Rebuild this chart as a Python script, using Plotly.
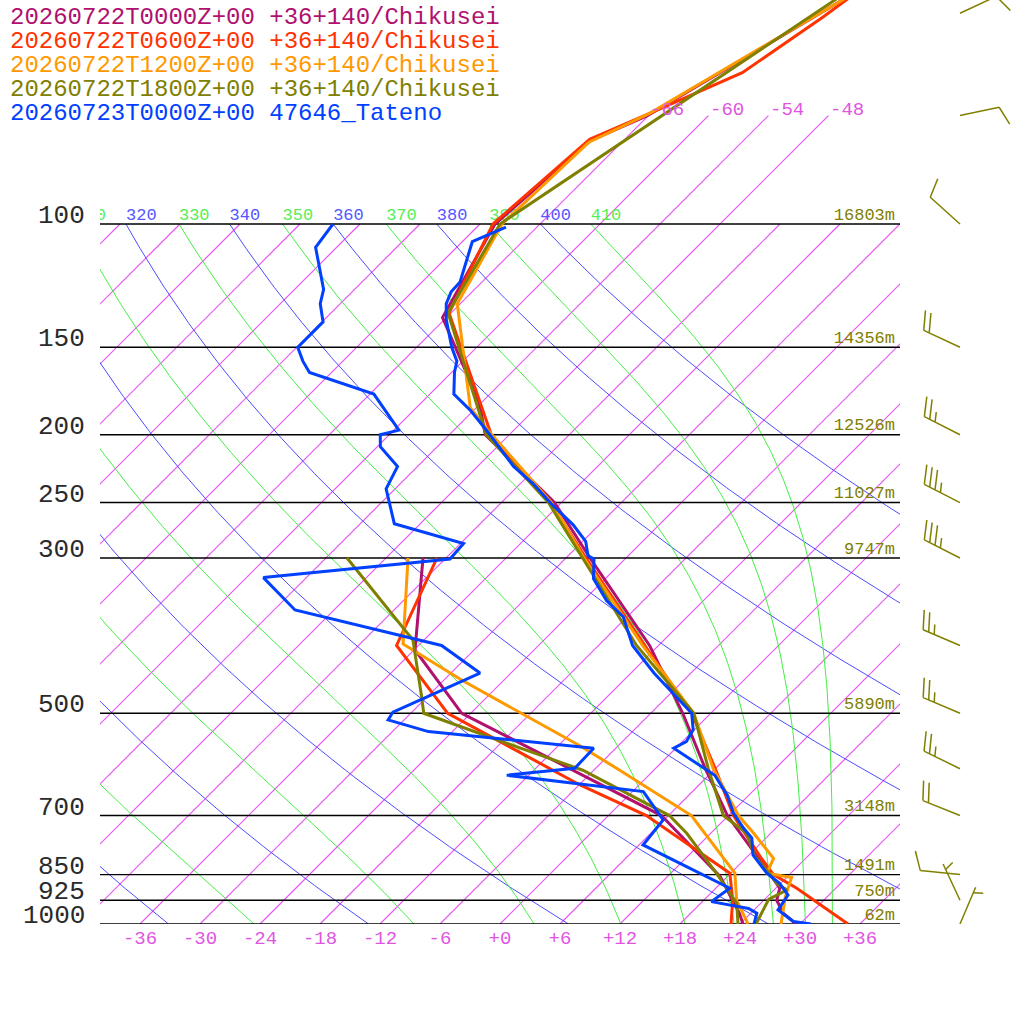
import numpy as np
import plotly.graph_objects as go

# ---- soundings: pressure (hPa) / temperature (degC) ----
# 20260722T0000Z forecast, Chikusei
C00_T_P = [1000, 966, 925, 889, 850, 800, 700, 600, 500, 400, 300, 250, 220, 210, 200, 180, 136, 100, 76, 70, 47.5]
C00_T = [29.6, 27.3, 25.3, 24.4, 22.1, 18.9, 11.9, 5.0, -2.8, -12.9, -27.6, -36.7, -44.5, -47.4, -50.4, -54.2, -66.4, -70.5, -69.3, -66.1, -58.0]
C00_D_P = [1000, 966, 856, 700, 500, 406, 300]
C00_D = [24.3, 22.9, 17.3, 5.3, -24.9, -35.9, -44.3]

# 20260722T0600Z
C06_T_P = [1000, 939, 889, 850, 800, 700, 600, 500, 400, 300, 250, 200, 134, 100, 75.7, 69.5, 60.8, 50.6, 47.5]
C06_T = [34.8, 30.1, 26.1, 22.4, 19.2, 12.5, 6.0, -1.9, -13.4, -28.0, -37.1, -49.8, -66.2, -70.7, -69.5, -66.1, -60.9, -58.4, -57.7]
C06_D_P = [1000, 925, 846, 700, 633, 500, 400, 300]
C06_D = [23.1, 20.9, 17.9, 3.8, -5.9, -26.3, -38.2, -42.9]

# 20260722T1200Z
C12_T_P = [1000, 914, 858, 846, 806, 742, 700, 651, 600, 500, 400, 300, 250, 197, 183, 130, 100, 76.4, 69.5, 47.5]
C12_T = [28.1, 25.8, 24.5, 21.6, 20.8, 16.3, 13.0, 9.6, 5.8, -1.7, -13.6, -28.2, -37.0, -50.6, -54.6, -66.3, -69.8, -69.3, -66.1, -58.0]
C12_D_P = [1000, 925, 846, 700, 603, 556, 449, 398, 300]
C12_D = [24.8, 21.3, 18.4, 8.3, -3.4, -9.9, -28.1, -37.7, -45.8]

# 20260722T1800Z
C18_T_P = [1000, 922, 894, 875, 850, 800, 742, 700, 600, 500, 400, 300, 250, 200, 134, 100, 47.5]
C18_T = [25.6, 24.4, 25.3, 23.6, 22.1, 18.7, 15.6, 11.5, 5.3, -1.7, -14.2, -28.3, -37.3, -50.3, -66.3, -70.0, -58.8]
C18_D_P = [1000, 934, 850, 742, 700, 603, 558, 500, 473, 393, 300]
C18_D = [23.8, 21.6, 16.8, 9.6, 6.1, -7.1, -16.1, -28.7, -30.6, -37.1, -51.9]

# 20260723T0000Z observed, 47646 Tateno
TAT_T_P = [1000, 992, 955, 909, 875, 846, 797, 754, 730, 695, 654, 613, 561, 549, 528, 500,
           438, 400, 364, 345, 321, 301, 298, 284, 269, 251, 235, 222, 209, 199, 185, 175,
           163, 157, 150, 137, 130, 125, 121, 110, 106, 101]
TAT_T = [31.1, 29.1, 26.4, 25.9, 23.9, 21.6, 18.4, 16.6, 14.8, 12.3, 9.8, 6.6, -0.2, 0.4, -0.1, -1.9,
         -9.7, -14.6, -18.4, -21.7, -25.2, -27.1, -28.0, -29.7, -32.6, -36.9, -40.7, -44.4, -47.6, -50.2, -54.2, -57.6,
         -59.7, -60.6, -62.5, -65.8, -67.4, -68.1, -68.2, -70.2, -71.0, -69.1]
TAT_D_P = [1000, 965, 950, 929, 889, 771, 710, 647, 613, 599, 561, 531, 511, 498, 438, 400, 356, 320,
           301, 286, 268, 239, 222, 208, 200, 197, 175, 163, 157, 150, 138, 130, 124, 108, 100]
TAT_D = [25.4, 24.6, 23.3, 18.9, 19.4, 6.4, 5.9, 1.1, -14.2, -8.1, -8.2, -26.4, -31.6, -31.9, -27.1, -33.7, -51.9, -58.3,
         -41.5, -41.7, -50.6, -54.9, -56.0, -59.7, -60.9, -59.5, -65.6, -74.2, -76.0, -77.9, -77.9, -80.0, -81.1, -86.1, -86.7]

# winds of the 1800Z run (direction deg, speed kt)
WIND_P = [50, 70, 100, 150, 200, 250, 300, 400, 500, 600, 700, 850, 925, 1000]
WIND_DIR = [65, 78, 312, 295, 297, 297, 297, 293, 293, 296, 292, 276, 335, 23]
WIND_KT = [10, 10, 10, 20, 25, 35, 35, 25, 25, 25, 20, 10, 5, 5]

# standard levels and heights
LEVELS = [100, 150, 200, 250, 300, 500, 700, 850, 925, 1000]
HEIGHTS = [16803, 14356, 12526, 11027, 9747, 5890, 3148, 1491, 750, 62]

ISOTHERMS = list(range(-108, 37, 6))
ISO_TOP = [-66, -60, -54, -48]          # isotherms carried up to 70 hPa
THETA = list(range(240, 401, 20))       # dry adiabats
THETA_E = list(range(250, 411, 20))     # moist adiabats
T_TICKS = list(range(-36, 37, 6))

SERIES = [
    ("20260722T0000Z+00 +36+140/Chikusei", "#b0106e", C00_T_P, C00_T, C00_D_P, C00_D),
    ("20260722T0600Z+00 +36+140/Chikusei", "#ff3300", C06_T_P, C06_T, C06_D_P, C06_D),
    ("20260722T1200Z+00 +36+140/Chikusei", "#ff9900", C12_T_P, C12_T, C12_D_P, C12_D),
    ("20260722T1800Z+00 +36+140/Chikusei", "#808000", C18_T_P, C18_T, C18_D_P, C18_D),
    ("20260723T0000Z+00 47646_Tateno", "#0040ff", TAT_T_P, TAT_T, TAT_D_P, TAT_D),
]

SKEW = 70.0                  # degC shift per decade of pressure (45 deg)
Y_TOP = 3 - 924 / 700        # log10 p at the top edge
PX_DEC = 924 / (3 - Y_TOP)   # pixels per decade of pressure
MONO = "Liberation Mono"


def skew_x(t, p):
    return np.asarray(t, float) + SKEW * np.log10(1000.0 / np.asarray(p, float))


def theta_e_bolton(tk, p):
    es = np.minimum(6.112 * np.exp(17.67 * (tk - 273.15) / (tk - 29.65)), 0.5 * p)
    r = 0.622 * es / (p - es)
    rg = 1000.0 * r
    return (tk * (1000.0 / p) ** (0.2854 * (1 - 0.28 * r))
            * np.exp((3.376 / tk - 0.00254) * rg * (1 + 0.00081 * rg)))


def moist_temp(the, p):
    lo = np.full_like(p, 100.0)
    hi = np.full_like(p, 330.0)
    for _ in range(60):
        mid = 0.5 * (lo + hi)
        big = theta_e_bolton(mid, p) > the
        hi = np.where(big, mid, hi)
        lo = np.where(big, lo, mid)
    return 0.5 * (lo + hi) - 273.15


def barb_lines(p, wdir, spd, x0=960.0, staff=40.0, full=20.0, gap=6.0):
    a = np.radians(wdir)
    ux, uy = np.sin(a), -np.cos(a)          # screen px, y down
    ang = np.arctan2(uy, ux) + np.radians(70)
    wx, wy = np.cos(ang), np.sin(ang)
    segs = [[(0, 0), (staff * ux, staff * uy)]]
    n_full, n_half = spd // 10, (spd % 10) // 5
    k = 0 if n_full else 1
    for i in range(n_full + n_half):
        ln = full if i < n_full else full / 2
        d = staff - (k + i) * gap
        segs.append([(d * ux, d * uy), (d * ux + ln * wx, d * uy + ln * wy)])
    xs, ys = [], []
    for seg in segs:
        for dx, dy in seg:
            xs.append(x0 + dx)
            ys.append(p * 10 ** (dy / PX_DEC))
        xs.append(None)
        ys.append(None)
    return xs, ys


fig = go.Figure()
pg = np.logspace(3, 2, 200)

# isotherms
xs, ys = [], []
for t in ISOTHERMS:
    ptop = 70 if t in ISO_TOP else 100
    xs += [float(skew_x(t, 1000.0)), float(skew_x(t, ptop)), None]
    ys += [1000.0, float(ptop), None]
fig.add_trace(go.Scatter(x=xs, y=ys, mode="lines", line=dict(color="#e855f5", width=1.2),
                         hoverinfo="skip"))
for t in ISO_TOP:
    fig.add_annotation(x=float(skew_x(t, 70)), y=float(np.log10(70)), xref="x", yref="y", text=str(t),
                       showarrow=False, xanchor="left", yanchor="middle", yshift=6,
                       font=dict(family=MONO, size=19, color="#e055e0"))

# dry adiabats
xs, ys, lx = [], [], []
for th in THETA:
    t = th * (pg / 1000.0) ** 0.2857 - 273.15
    xs += list(skew_x(t, pg)) + [None]
    ys += list(pg) + [None]
    lx.append(float(skew_x(t[-1], pg[-1])))
fig.add_trace(go.Scatter(x=xs, y=ys, mode="lines", line=dict(color="#4d4dff", width=1), hoverinfo="skip"))
fig.add_trace(go.Scatter(x=lx, y=[100] * len(THETA), mode="text", text=[str(v) for v in THETA],
                         textposition="top right", textfont=dict(family=MONO, size=17, color="#5555ff")))

# moist adiabats
xs, ys, lx = [], [], []
for th in THETA_E:
    t = moist_temp(float(th), pg)
    xs += list(skew_x(t, pg)) + [None]
    ys += list(pg) + [None]
    lx.append(float(skew_x(t[-1], pg[-1])))
fig.add_trace(go.Scatter(x=xs, y=ys, mode="lines", line=dict(color="#44ee44", width=1), hoverinfo="skip"))
fig.add_trace(go.Scatter(x=lx, y=[100] * len(THETA_E), mode="text", text=[str(v) for v in THETA_E],
                         textposition="top right", textfont=dict(family=MONO, size=17, color="#55ee55")))

# pressure levels
xs, ys = [], []
for p in LEVELS:
    xs += [-40, 40, None]
    ys += [p, p, None]
fig.add_trace(go.Scatter(x=xs, y=ys, mode="lines", line=dict(color="black", width=1.4), hoverinfo="skip"))
fig.add_trace(go.Scatter(x=[39.5] * len(LEVELS), y=LEVELS, mode="text", text=[f"{h}m" for h in HEIGHTS],
                         textposition="top left", textfont=dict(family=MONO, size=17, color="#808000")))
for p in LEVELS:
    fig.add_annotation(x=87 / 1024, y=float(np.log10(p)), xref="paper", yref="y", text=str(p),
                       showarrow=False, xanchor="right", yanchor="middle", yshift=8,
                       font=dict(family=MONO, size=26, color="#2a2a2a"))

# soundings
for name, color, tp, t, dp, d in SERIES:
    fig.add_trace(go.Scatter(x=skew_x(t, tp), y=tp, mode="lines", name=name,
                             line=dict(color=color, width=3)))
    fig.add_trace(go.Scatter(x=skew_x(d, dp), y=dp, mode="lines", name=name,
                             line=dict(color=color, width=3)))

# wind barbs
xs, ys = [], []
for p, wd, ws in zip(WIND_P, WIND_DIR, WIND_KT):
    bx, by = barb_lines(p, wd, ws)
    xs += bx
    ys += by
fig.add_trace(go.Scatter(x=xs, y=ys, xaxis="x2", yaxis="y", mode="lines",
                         line=dict(color="#808000", width=1.5), hoverinfo="skip"))

# legend text
for i, (name, color, *_rest) in enumerate(SERIES):
    fig.add_annotation(text=name, xref="paper", yref="paper", x=8 / 1024, y=1 - (17 + 24 * i) / 1024,
                       xanchor="left", yanchor="middle", showarrow=False,
                       font=dict(family=MONO, size=24, color=color))

fig.update_layout(
    width=1024, height=1024,
    margin=dict(l=0, r=0, t=0, b=0),
    paper_bgcolor="white", plot_bgcolor="white",
    showlegend=False,
    xaxis=dict(domain=[100 / 1024, 900 / 1024], range=[-40, 40],
               tickvals=T_TICKS, ticktext=[f"{v:+d}" for v in T_TICKS],
               showgrid=False, zeroline=False, showline=False, ticks="",
               tickfont=dict(family=MONO, size=19, color="#e055e0")),
    yaxis=dict(type="log", domain=[100 / 1024, 1], range=[3, Y_TOP],
               showticklabels=False, showgrid=False, zeroline=False, showline=False),
    xaxis2=dict(domain=[900 / 1024, 1], range=[900, 1024], anchor="y", visible=False),
)

fig.write_html("out.html", config={"displayModeBar": False},
               post_script="document.body.style.margin='0px';")
